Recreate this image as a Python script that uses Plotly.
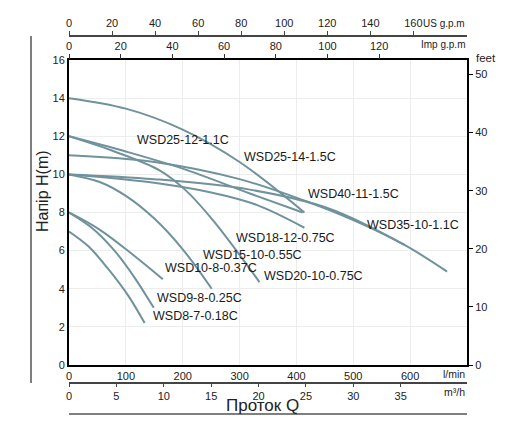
import plotly.graph_objects as go

# ---- data: flow Q (l/min) and head H (m) ----
names = ["WSD25-14-1.5C", "WSD25-12-1.1C", "WSD18-12-0.75C", "WSD40-11-1.5C",
         "WSD35-10-1.1C", "WSD20-10-0.75C", "WSD15-10-0.55C", "WSD10-8-0.37C",
         "WSD9-8-0.25C", "WSD8-7-0.18C"]

q_25_14 = [0, 100, 200, 300, 414]
h_25_14 = [14, 13.45, 12.35, 10.65, 8.0]
q_25_12 = [0, 100, 200, 318, 411]
h_25_12 = [12, 11.2, 10.3, 9.0, 8.0]
q_18_12 = [0, 80, 160, 204, 253, 335]
h_18_12 = [12, 11.2, 10.2, 9.2, 7.6, 4.35]
q_40_11 = [0, 150, 300, 416, 500, 590, 665]
h_40_11 = [11, 10.65, 9.75, 8.6, 7.6, 6.3, 4.9]
q_35_10 = [0, 150, 318, 458, 590]
h_35_10 = [10, 9.75, 9.2, 8.2, 6.3]
q_20_10 = [0, 140, 250, 330, 414]
h_20_10 = [10, 9.6, 9.05, 8.4, 7.2]
q_15_10 = [0, 54, 100, 150, 200, 251]
h_15_10 = [10, 9.6, 8.87, 7.68, 6.07, 4.0]
q_10_8 = [0, 55, 113, 165]
h_10_8 = [8, 7.08, 5.77, 4.5]
q_9_8 = [0, 40, 80, 115, 149]
h_9_8 = [8.0, 7.2, 6.0, 4.6, 3.0]
q_8_7 = [0, 35, 70, 105, 133]
h_8_7 = [7.0, 6.2, 5.0, 3.6, 2.2]

curves_q = [q_25_14, q_25_12, q_18_12, q_40_11, q_35_10, q_20_10, q_15_10, q_10_8, q_9_8, q_8_7]
curves_h = [h_25_14, h_25_12, h_18_12, h_40_11, h_35_10, h_20_10, h_15_10, h_10_8, h_9_8, h_8_7]

# label anchor positions (Q l/min, H m)
label_q = [304, 116, 291, 416, 521, 339, 232, 165, 151, 144]
label_h = [10.9, 11.8, 6.66, 8.97, 7.35, 4.67, 5.77, 5.09, 3.5, 2.57]

# axis ticks
lmin_ticks = [0, 100, 200, 300, 400, 500, 600]
m3h_ticks = [0, 5, 10, 15, 20, 25, 30, 35]
imp_ticks = [0, 20, 40, 60, 80, 100, 120]
us_ticks = [0, 20, 40, 60, 80, 100, 120, 140, 160]
m_ticks = [0, 2, 4, 6, 8, 10, 12, 14, 16]
ft_ticks = [0, 10, 20, 30, 40, 50]

Q_MAX = 700
H_MAX = 16
LINE_COLOR = "#6f929d"
FONT = "Arial, Liberation Sans, sans-serif"

fig = go.Figure()
for n, q, h in zip(names, curves_q, curves_h):
    fig.add_trace(go.Scatter(x=q, y=h, mode="lines", name=n,
                             line=dict(color=LINE_COLOR, width=2, shape="spline", smoothing=1),
                             hoverinfo="skip", showlegend=False))

# invisible companions so that the secondary unit axes exist
clear = dict(color="rgba(0,0,0,0)")
fig.add_trace(go.Scatter(x=[v / 4.54609 for v in q_40_11], y=h_40_11, xaxis="x2", yaxis="y",
                         mode="lines", line=clear, hoverinfo="skip", showlegend=False))
fig.add_trace(go.Scatter(x=[v / 3.78541 for v in q_40_11], y=h_40_11, xaxis="x3", yaxis="y",
                         mode="lines", line=clear, hoverinfo="skip", showlegend=False))
fig.add_trace(go.Scatter(x=[v * 0.06 for v in q_40_11], y=h_40_11, xaxis="x4", yaxis="y",
                         mode="lines", line=clear, hoverinfo="skip", showlegend=False))
fig.add_trace(go.Scatter(x=q_40_11, y=[v / 0.3048 for v in h_40_11], xaxis="x", yaxis="y2",
                         mode="lines", line=clear, hoverinfo="skip", showlegend=False))

# page body has an 8px margin; work in window pixels and convert
OFF = 8
W, H = 512 - OFF, 435 - OFF


def px(x):
    return (x - OFF) / W


def py(y):
    return (H - (y - OFF)) / H


xd = [px(69), px(467)]
yd = [py(365), py(60)]
tickfont = dict(family=FONT, size=11, color="#222")

fig.update_layout(
    width=W, height=H,
    margin=dict(l=0, r=0, t=0, b=0, autoexpand=False),
    paper_bgcolor="white", plot_bgcolor="white",
    font=dict(family=FONT, color="#222"),
    xaxis=dict(domain=xd, range=[0, Q_MAX], tickvals=lmin_ticks, anchor="y",
               showgrid=True, gridcolor="#ededed", gridwidth=1, zeroline=False,
               showline=True, linecolor="black", linewidth=2, mirror=True,
               ticks="", tickfont=tickfont),
    yaxis=dict(domain=yd, range=[0, H_MAX], tickvals=m_ticks, anchor="x",
               showgrid=True, gridcolor="#ededed", gridwidth=1, zeroline=False,
               showline=True, linecolor="black", linewidth=2, mirror=True,
               ticks="", tickfont=tickfont),
    yaxis2=dict(overlaying="y", side="right", anchor="x", range=[0, H_MAX / 0.3048],
                tickvals=ft_ticks, showgrid=False, zeroline=False, showline=False,
                ticks="outside", ticklen=5, tickcolor="black", tickfont=tickfont),
    xaxis2=dict(overlaying="x", side="top", anchor="y", range=[0, Q_MAX / 4.54609],
                tickvals=imp_ticks, showgrid=False, zeroline=False, showline=False,
                ticks="outside", ticklen=5, tickcolor="#333", tickfont=tickfont),
    xaxis3=dict(overlaying="x", side="top", anchor="free", position=py(36),
                range=[0, Q_MAX / 3.78541], tickvals=us_ticks, showgrid=False, zeroline=False,
                showline=True, linecolor="#444", linewidth=1.5,
                ticks="outside", ticklen=4, tickcolor="#444", tickfont=tickfont),
    xaxis4=dict(overlaying="x", side="bottom", anchor="free", position=py(383),
                range=[0, Q_MAX * 0.06], tickvals=m3h_ticks, showgrid=False, zeroline=False,
                showline=True, linecolor="#444", linewidth=1.5,
                ticks="outside", ticklen=3, tickcolor="#444", tickfont=tickfont),
)

ann = []
for n, lq, lh in zip(names, label_q, label_h):
    ann.append(dict(x=lq, y=lh, xref="x", yref="y", text=n, showarrow=False,
                    xanchor="left", yanchor="middle", font=dict(family=FONT, size=12.5, color="#1a1a1a")))


def pa(text, x, y, xa="left", ya="middle", size=10, angle=0):
    ann.append(dict(x=px(x), y=py(y), xref="paper", yref="paper", text=text, showarrow=False,
                    xanchor=xa, yanchor=ya, textangle=angle, font=dict(family=FONT, size=size, color="#222")))


pa("US g.p.m", 467, 23, xa="right", size=10)
pa("Imp g.p.m", 467, 45, xa="right", size=10)
pa("feet", 474, 58, xa="left", size=11.5)
pa("l/min", 467, 374, xa="right", size=10.5)
pa("m³/h", 467, 392, xa="right", size=10.5)
pa("Проток Q", 262, 405, xa="center", size=17)
pa("Напір H(m)", 42, 191, xa="center", size=16, angle=-90)
fig.update_layout(annotations=ann)

fig.add_shape(type="line", xref="paper", yref="paper", x0=px(31), x1=px(31),
              y0=py(36), y1=py(383), line=dict(color="#555", width=1.5))
fig.add_shape(type="line", xref="paper", yref="paper", x0=px(69), x1=px(467),
              y0=py(414), y1=py(414), line=dict(color="#555", width=1.5))

fig.write_html("out.html")
